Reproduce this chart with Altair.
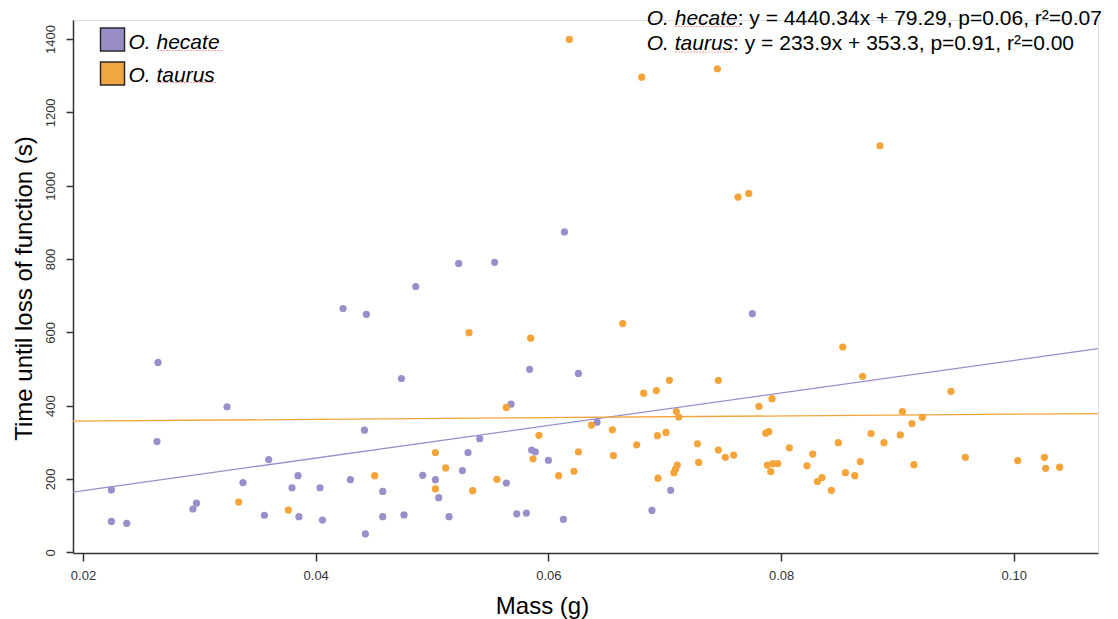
import altair as alt
import pandas as pd

# ---- data ----
hecate_mass = [0.04235, 0.04436, 0.02645, 0.03238, 0.02636, 0.04419, 0.03596, 0.02244, 0.03375, 0.03848,
               0.03796, 0.04037, 0.04298, 0.02975, 0.02945, 0.02244, 0.02376, 0.03559, 0.03856, 0.04058,
               0.04427, 0.05229, 0.05538, 0.04860, 0.04737, 0.05839, 0.06258, 0.05679, 0.05410, 0.06418,
               0.05309, 0.05856, 0.05888, 0.06000, 0.04920, 0.05029, 0.05261, 0.05639, 0.04576, 0.05057,
               0.04576, 0.04759, 0.05146, 0.05728, 0.05811, 0.06129, 0.06890, 0.07753, 0.07051, 0.06138]
hecate_time = [665, 649, 518, 397, 302, 333, 253, 170, 190, 209,
               176, 176, 198, 134, 118, 84, 79, 101, 97, 88,
               50, 788, 791, 725, 474, 499, 488, 404, 310, 355,
               272, 279, 274, 251, 210, 198, 223, 189, 166, 149,
               97, 102, 97, 105, 107, 90, 114, 651, 169, 874]

taurus_mass = [0.03338, 0.03765, 0.05318, 0.05848, 0.06639, 0.06819, 0.06928, 0.05639, 0.06370, 0.06550,
               0.05919, 0.06937, 0.06759, 0.05029, 0.06258, 0.05868, 0.06559, 0.05117, 0.04507, 0.06088,
               0.06220, 0.06942, 0.05558, 0.05029, 0.05349, 0.08530, 0.08701, 0.07461, 0.07040, 0.07810,
               0.07922, 0.07100, 0.07120, 0.07011, 0.07868, 0.07894, 0.07281, 0.07461, 0.07521, 0.07593,
               0.08071, 0.08272, 0.08492, 0.08773, 0.08884, 0.09025, 0.09125, 0.09214, 0.09043, 0.07292,
               0.07079, 0.07093, 0.07108, 0.07882, 0.07930, 0.07971, 0.07911, 0.08223, 0.08681, 0.08553,
               0.08633, 0.08352, 0.08312, 0.08432, 0.09142, 0.09460, 0.09584, 0.10034, 0.10263, 0.10274,
               0.10394, 0.06180, 0.06802, 0.07453, 0.08850, 0.07630, 0.07722]
taurus_time = [137, 115, 599, 584, 624, 434, 441, 395, 347, 334,
               319, 318, 293, 272, 274, 255, 264, 230, 209, 209,
               221, 202, 199, 173, 168, 560, 480, 469, 469, 398,
               419, 384, 369, 327, 325, 329, 296, 279, 259, 265,
               285, 268, 299, 324, 299, 320, 351, 368, 384, 245,
               217, 227, 238, 238, 242, 242, 220, 236, 247, 217,
               209, 204, 193, 169, 239, 439, 259, 250, 259, 229,
               232, 1399, 1296, 1319, 1109, 969, 979]

species = ["O. hecate", "O. taurus"]
slopes = [4440.34, 233.9]
intercepts = [79.29, 353.3]
fit_text = [": y = 4440.34x + 79.29, p=0.06, r\u00b2=0.07",
            ": y = 233.9x + 353.3, p=0.91, r\u00b2=0.00"]
x_ticks = [0.02, 0.04, 0.06, 0.08, 0.10]
y_ticks = [0, 200, 400, 600, 800, 1000, 1200, 1400]
x_domain = [0.01914, 0.10724]
y_domain = [-2, 1452]

point_colors = ["#9B8FCB", "#F5A43A"]
line_colors = ["#A59BD2", "#F7C283"]
legend_fill = ["#9A8CC6", "#F2A641"]
FONT = "Liberation Sans"

pts = pd.concat([
    pd.DataFrame({"species": species[0], "mass": hecate_mass, "time": hecate_time}),
    pd.DataFrame({"species": species[1], "mass": taurus_mass, "time": taurus_time}),
], ignore_index=True)

fit = pd.DataFrame({
    "species": [species[0]] * 2 + [species[1]] * 2,
    "mass": x_domain * 2,
    "slope": [slopes[0]] * 2 + [slopes[1]] * 2,
    "intercept": [intercepts[0]] * 2 + [intercepts[1]] * 2,
})

xs = alt.Scale(domain=x_domain, nice=False, zero=False)
ys = alt.Scale(domain=y_domain, nice=False, zero=False)
cs = alt.Scale(domain=species, range=point_colors)

x_axis = alt.Axis(values=x_ticks, format=".2f", grid=False, domainColor="#333", domainWidth=1.5,
                  tickColor="#333", tickWidth=1.5, tickSize=8, labelPadding=8, labelFont=FONT,
                  labelFontSize=13, labelColor="#333", title="Mass (g)", titleFont=FONT,
                  titleFontSize=24, titleFontWeight="normal", titleColor="black",
                  titleX=469, titleY=60, titleAlign="center", titleBaseline="alphabetic")
y_axis = alt.Axis(values=y_ticks, format="d", grid=False, domainColor="#333", domainWidth=1.5,
                  tickColor="#333", tickWidth=1.5, tickSize=7, labelPadding=9, labelFont=FONT,
                  labelFontSize=13, labelColor="#333", labelAngle=270, labelAlign="center",
                  labelBaseline="bottom", title="Time until loss of function (s)", titleFont=FONT,
                  titleFontSize=24, titleFontWeight="normal", titleColor="black", titleAngle=270,
                  titleX=-42, titleY=268, titleAlign="center", titleBaseline="alphabetic")

points = alt.Chart(pts).mark_circle(size=52, opacity=1).encode(
    x=alt.X("mass:Q", scale=xs, axis=x_axis),
    y=alt.Y("time:Q", scale=ys, axis=y_axis),
    color=alt.Color("species:N", scale=cs, legend=None),
)

lines = alt.Chart(fit).transform_calculate(
    time="datum.slope * datum.mass + datum.intercept"
).mark_line(strokeWidth=1.3).encode(
    x=alt.X("mass:Q", scale=xs),
    y=alt.Y("time:Q", scale=ys),
    color=alt.Color("species:N", scale=alt.Scale(domain=species, range=line_colors), legend=None),
    detail="species:N",
)

one = pd.DataFrame({"a": [0]})
layers = [points, lines]

# legend (top-left)
legend_y = [(8, 31, 29), (42, 65, 62)]
under = ["#F4A3A3", "#F4A3A3"]
for i, (y0, y1, yb) in enumerate(legend_y):
    layers.append(alt.Chart(one).mark_rect(fill=legend_fill[i], stroke="#2a2a2a", strokeWidth=1.5).encode(
        x=alt.value(27.5), x2=alt.value(51.5), y=alt.value(y0), y2=alt.value(y1)))
    layers.append(alt.Chart(one).mark_text(text=species[i], align="left", baseline="alphabetic", font=FONT,
                                           fontStyle="italic", fontSize=21, color="black").encode(
        x=alt.value(55.5), y=alt.value(yb)))

# spell-check underlines seen in the reference
underlines = [(84, 149, 30.5), (84, 143, 62.5), (602, 667, 6.5), (602, 660, 32)]
for (a, b, yy) in underlines:
    layers.append(alt.Chart(one).mark_rule(color="#F2A0A0", strokeWidth=1.2, strokeDash=[2, 1]).encode(
        x=alt.value(a), x2=alt.value(b), y=alt.value(yy)))

# regression annotation (top-right)
ann_base = [5, 30]
sp_w = [91.0, 86.4]
for i in range(2):
    layers.append(alt.Chart(one).mark_text(text=species[i], align="left", baseline="alphabetic", font=FONT,
                                           fontStyle="italic", fontSize=21, color="black").encode(
        x=alt.value(573.7), y=alt.value(ann_base[i])))
    layers.append(alt.Chart(one).mark_text(text=fit_text[i], align="left", baseline="alphabetic", font=FONT,
                                           fontSize=21, color="black").encode(
        x=alt.value(573.7 + sp_w[i]), y=alt.value(ann_base[i])))

chart = alt.layer(*layers).properties(
    width=1025, height=533,
    autosize=alt.AutoSizeParams(type="none"),
    padding={"left": 73, "top": 20, "right": 20, "bottom": 66},
).configure_view(stroke=None).configure(background="white")

chart.save("out.html", embed_options={"renderer": "svg", "actions": False})
